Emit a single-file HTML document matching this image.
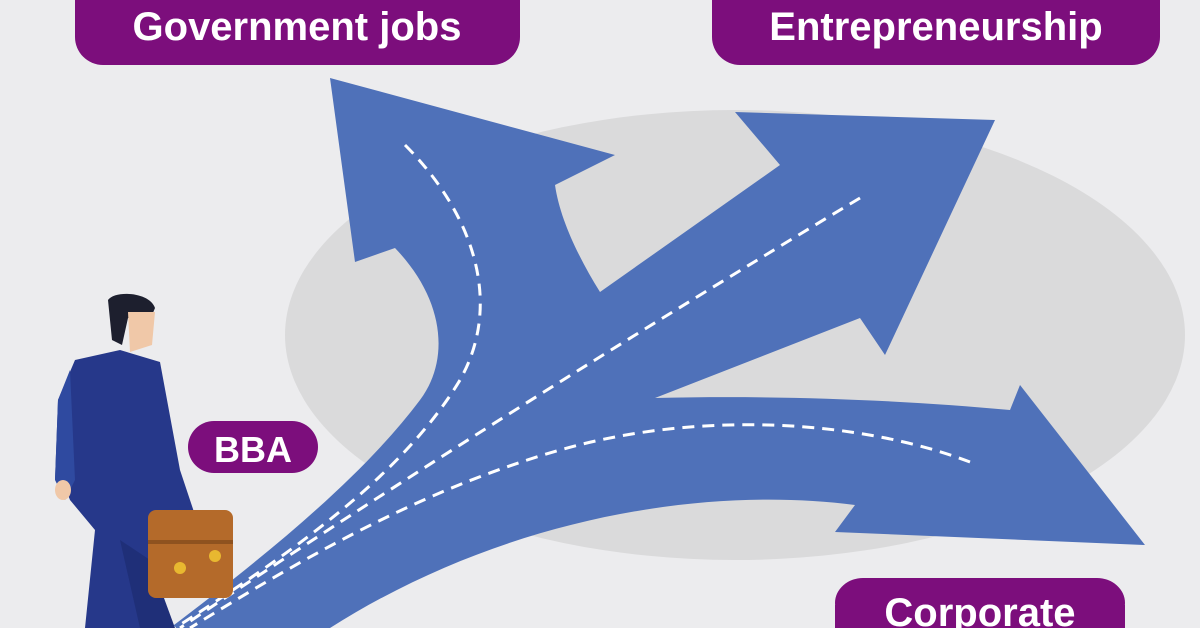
<!DOCTYPE html>
<html><head><style>
html,body{margin:0;padding:0;width:1200px;height:628px;overflow:hidden;background:#ececee}
svg{display:block}
text{font-family:"Liberation Sans",sans-serif;font-weight:bold;fill:#fff}
</style></head><body>
<svg width="1200" height="628" viewBox="0 0 1200 628" overflow="hidden">
<rect width="1200" height="628" fill="#ececee"/>
<ellipse cx="735" cy="335" rx="450" ry="225" fill="#dadadb"/>
<path d="M170,628 C260,560 360,480 420,400 C450,360 445,300 395,248 L355,262 L330,78 L615,155 L555,185 C560,220 580,260 600,292 L780,165 L735,112 L995,120 L885,355 L860,318 L655,398 C780,395 900,400 1010,410 L1020,385 L1145,545 L835,532 L855,505 C700,485 500,520 330,628 Z" fill="#4f71b9"/>
<g fill="none" stroke="#fff" stroke-width="3" stroke-dasharray="12,8">
<path d="M405,145 C470,210 505,300 460,380 C400,480 280,560 175,628"/>
<path d="M860,198 C640,330 400,480 180,628"/>
<path d="M970,462 C860,420 700,410 560,450 C420,490 300,560 190,628"/>
</g>
<g>
<path d="M108,300 C115,290 150,292 155,308 L150,320 L128,318 L122,345 L112,340 Z" fill="#1d1f2e"/>
<path d="M128,312 L155,312 L152,345 L130,352 Z" fill="#f0c8a8"/>
<path d="M75,360 L120,350 L160,362 L180,470 L195,515 L180,520 L165,510 L150,560 L165,628 L85,628 L95,530 L70,500 L62,480 L55,480 L58,400 Z" fill="#26388a"/>
<path d="M120,540 L150,560 L175,628 L140,628 Z" fill="#1f2f78"/>
<path d="M58,400 L70,370 L75,480 L65,500 L55,480 Z" fill="#2f4aa0"/>
<ellipse cx="63" cy="490" rx="8" ry="10" fill="#f0c8a8"/>
<ellipse cx="188" cy="520" rx="9" ry="8" fill="#f0c8a8"/>
<rect x="148" y="510" width="85" height="88" rx="8" fill="#b46a2a"/>
<rect x="148" y="540" width="85" height="4" fill="#8f521f"/>
<circle cx="215" cy="556" r="6" fill="#e8b830"/>
<circle cx="180" cy="568" r="6" fill="#e8b830"/>
</g>
<rect x="75" y="0" width="445" height="65" rx="28" fill="#7c0e7c"/>
<rect x="75" y="0" width="445" height="30" fill="#7c0e7c"/>
<text x="297" y="40" font-size="40" text-anchor="middle">Government jobs</text>
<rect x="712" y="0" width="448" height="65" rx="28" fill="#7c0e7c"/>
<rect x="712" y="0" width="448" height="30" fill="#7c0e7c"/>
<text x="936" y="40" font-size="40" text-anchor="middle">Entrepreneurship</text>
<rect x="188" y="421" width="130" height="52" rx="26" fill="#7c0e7c"/>
<text x="253" y="462" font-size="36" text-anchor="middle">BBA</text>
<rect x="835" y="578" width="290" height="50" rx="28" fill="#7c0e7c"/>
<rect x="835" y="605" width="290" height="23" fill="#7c0e7c"/>
<text x="980" y="626" font-size="40" text-anchor="middle">Corporate</text>
</svg>
</body></html>
